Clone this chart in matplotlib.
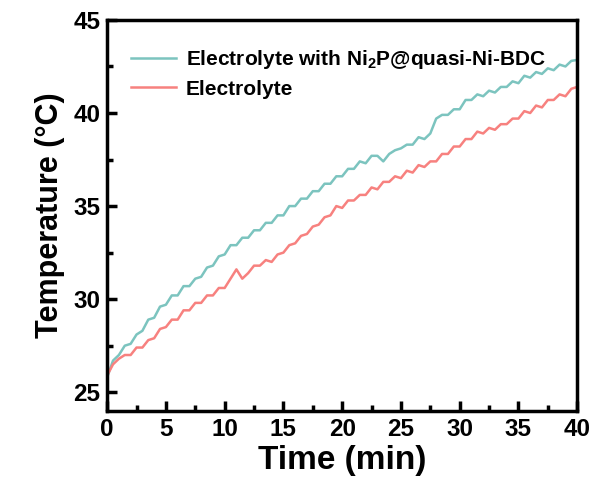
import numpy as np
import matplotlib
matplotlib.use("Agg")
import matplotlib.pyplot as plt

# time axis, minutes (one reading every 0.5 min)
time_min = np.arange(0, 40.5, 0.5)

# Electrolyte with Ni2P@quasi-Ni-BDC
temp_ni2p = [25.8, 26.7, 27.0, 27.5, 27.6, 28.1, 28.3, 28.9, 29.0, 29.6,
             29.7, 30.2, 30.2, 30.7, 30.7, 31.1, 31.2, 31.7, 31.8, 32.3,
             32.4, 32.9, 32.9, 33.3, 33.3, 33.7, 33.7, 34.1, 34.1, 34.5,
             34.5, 35.0, 35.0, 35.4, 35.4, 35.8, 35.8, 36.2, 36.2, 36.6,
             36.6, 37.0, 37.0, 37.4, 37.3, 37.7, 37.7, 37.4, 37.8, 38.0,
             38.1, 38.3, 38.3, 38.7, 38.6, 38.9, 39.7, 39.9, 39.9, 40.2,
             40.2, 40.7, 40.7, 41.0, 40.9, 41.2, 41.1, 41.4, 41.4, 41.7,
             41.6, 42.0, 41.9, 42.2, 42.1, 42.4, 42.3, 42.6, 42.5, 42.8,
             42.85]

# Electrolyte
temp_elec = [25.9, 26.5, 26.8, 27.0, 27.0, 27.4, 27.4, 27.8, 27.9, 28.4,
             28.5, 28.9, 28.9, 29.4, 29.4, 29.8, 29.8, 30.2, 30.2, 30.6,
             30.6, 31.1, 31.6, 31.1, 31.4, 31.8, 31.8, 32.1, 32.0, 32.4,
             32.5, 32.9, 33.0, 33.4, 33.5, 33.9, 34.0, 34.4, 34.5, 35.0,
             34.9, 35.3, 35.3, 35.6, 35.6, 36.0, 35.9, 36.3, 36.3, 36.6,
             36.5, 36.9, 36.8, 37.2, 37.1, 37.4, 37.4, 37.8, 37.8, 38.2,
             38.2, 38.6, 38.6, 39.0, 38.9, 39.2, 39.1, 39.4, 39.4, 39.7,
             39.7, 40.1, 40.0, 40.4, 40.3, 40.7, 40.7, 41.0, 40.9, 41.3,
             41.4]

labels = [r"Electrolyte with Ni$_{2}$P@quasi-Ni-BDC", "Electrolyte"]

plt.rcParams['font.family'] = 'Liberation Sans'
plt.rcParams['font.weight'] = 'bold'
plt.rcParams['mathtext.fontset'] = 'custom'
plt.rcParams['mathtext.rm'] = 'Liberation Sans:bold'
plt.rcParams['mathtext.bf'] = 'Liberation Sans:bold'
plt.rcParams['mathtext.it'] = 'Liberation Sans:bold'

fig = plt.figure(figsize=(5.92, 4.98), dpi=100)
ax = fig.add_axes([0.181, 0.175, 0.794, 0.785])

ax.plot(time_min, temp_ni2p, color='#7cc4bf', lw=1.8, label=labels[0])
ax.plot(time_min, temp_elec, color='#f7817f', lw=1.8, label=labels[1])

ax.set_xlim(0, 40)
ax.set_ylim(24, 45)
ax.set_xticks(np.arange(0, 41, 5))
ax.set_yticks(np.arange(25, 46, 5))
ax.set_xticks(np.arange(2.5, 40, 5), minor=True)
ax.set_yticks(np.arange(27.5, 45, 5), minor=True)
ax.tick_params(which='major', direction='in', length=7, width=2.5,
               labelsize=17.5, pad=5, top=False, right=False)
ax.tick_params(which='minor', direction='in', length=4, width=2.5,
               top=False, right=False)
for lbl in ax.get_xticklabels() + ax.get_yticklabels():
    lbl.set_fontweight('bold')
for sp in ax.spines.values():
    sp.set_linewidth(2.5)

ax.set_xlabel('Time (min)', fontsize=24, fontweight='bold', labelpad=3)
ax.set_ylabel('Temperature (°C)', fontsize=22, fontweight='bold', labelpad=6)

leg = ax.legend(loc='upper left', frameon=False, fontsize=15,
                bbox_to_anchor=(0.01, 0.975), handlelength=2.2,
                handletextpad=0.45, labelspacing=0.4)
for t in leg.get_texts():
    t.set_fontweight('bold')

fig.savefig('out.png', dpi=100)
